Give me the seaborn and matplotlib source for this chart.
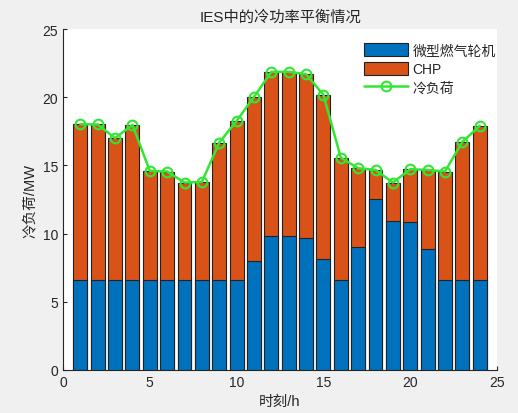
import numpy as np
import pandas as pd
import seaborn as sns
import matplotlib.pyplot as plt
from matplotlib.patches import Patch
from matplotlib.lines import Line2D

# 数据
hours = list(range(1, 25))
mt_power = [6.6, 6.6, 6.6, 6.6, 6.6, 6.6, 6.6, 6.6, 6.6, 6.6, 8.0, 9.83,
            9.83, 9.66, 8.12, 6.6, 9.02, 12.52, 10.95, 10.88, 8.9, 6.6, 6.6, 6.6]
cold_load = [18.02, 18.0, 17.0, 17.97, 14.6, 14.55, 13.74, 13.79, 16.67, 18.26, 20.02, 21.86,
             21.86, 21.69, 20.17, 15.57, 14.79, 14.67, 13.74, 14.72, 14.67, 14.55, 16.72, 17.9]
chp_power = [round(c - m, 2) for c, m in zip(cold_load, mt_power)]

df = pd.DataFrame({'时刻': hours, '微型燃气轮机': mt_power, 'CHP': chp_power, '冷负荷': cold_load})
df['total'] = df['微型燃气轮机'] + df['CHP']

c_blue = '#0072BD'
c_orange = '#D95319'
c_green = '#33E633'

sns.set_style('ticks')
plt.rcParams['font.family'] = ['Liberation Sans', 'Noto Sans CJK SC', 'DejaVu Sans']

fig = plt.figure(figsize=(5.18, 4.14), dpi=100, facecolor='#f0f0f0')
ax = fig.add_axes([0.1216, 0.1039, 0.838, 0.8236])
ax.set_facecolor('white')

# 堆叠柱状图
sns.barplot(data=df, x='时刻', y='total', native_scale=True, width=0.8,
            color=c_orange, saturation=1, edgecolor='#222222', linewidth=0.8, ax=ax)
sns.barplot(data=df, x='时刻', y='微型燃气轮机', native_scale=True, width=0.8,
            color=c_blue, saturation=1, edgecolor='#222222', linewidth=0.8, ax=ax)

# 冷负荷曲线
sns.lineplot(data=df, x='时刻', y='冷负荷', color=c_green, linewidth=1.8, marker='o',
             markersize=7, markerfacecolor='none', markeredgecolor=c_green,
             markeredgewidth=1.5, ax=ax)

ax.set_xlim(0, 25)
ax.set_ylim(0, 25)
ax.set_xticks([0, 5, 10, 15, 20, 25])
ax.set_yticks([0, 5, 10, 15, 20, 25])
ax.tick_params(direction='in', length=3, labelsize=10, colors='#262626')
for s in ['top', 'right']:
    ax.spines[s].set_visible(False)
for s in ['left', 'bottom']:
    ax.spines[s].set_color('#262626')
    ax.spines[s].set_linewidth(0.8)

ax.set_title('IES中的冷功率平衡情况', fontsize=11, color='#262626', pad=6)
ax.set_xlabel('时刻/h', fontsize=10.5, color='#262626')
ax.set_ylabel('冷负荷/MW', fontsize=10.5, color='#262626')

handles = [Patch(facecolor=c_blue, edgecolor='#222222', linewidth=0.8),
           Patch(facecolor=c_orange, edgecolor='#222222', linewidth=0.8),
           Line2D([], [], color=c_green, linewidth=1.8, marker='o', markersize=7,
                  markerfacecolor='none', markeredgewidth=1.5)]
ax.legend(handles, ['微型燃气轮机', 'CHP', '冷负荷'], loc='upper left',
          bbox_to_anchor=(0.68, 0.975), frameon=False, fontsize=10,
          handlelength=3.2, handleheight=1.1, handletextpad=0.3, labelspacing=0.3,
          borderaxespad=0)

fig.savefig('out.png', dpi=100, facecolor=fig.get_facecolor())
